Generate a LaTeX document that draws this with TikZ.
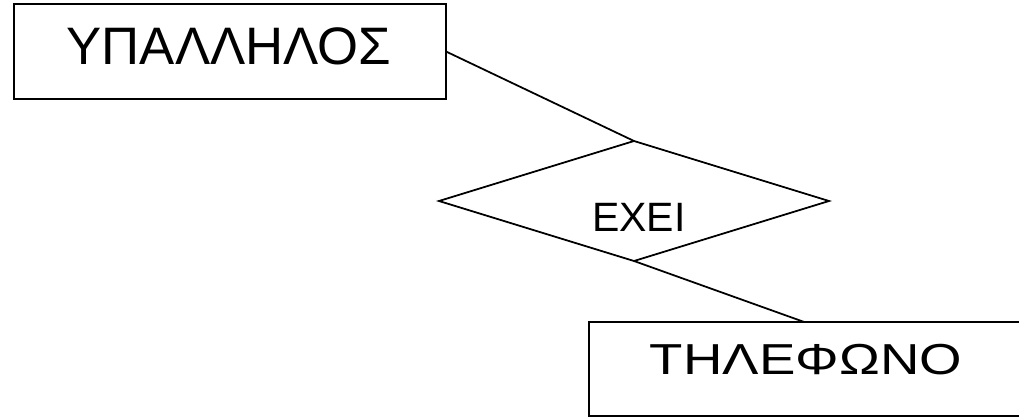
\documentclass[tikz,border=0pt]{standalone}
\usepackage{fontspec}
\setmainfont{Liberation Sans}
\usetikzlibrary{shapes.geometric}
\tikzset{
  entity/.style={draw, line width=1.5pt, inner sep=0pt, outer sep=0pt},
  relation/.style={draw, diamond, line width=1.5pt, minimum width=11.7cm, minimum height=3.6cm, inner sep=0pt, outer sep=0pt},
  boxtext/.style={anchor=base, inner sep=0pt}
}

\begin{document}
\begin{tikzpicture}[x=0.03cm,y=-0.03cm]
\useasboundingbox (0,0) rectangle (1019,418);
\clip (0,0) rectangle (1019,418);
% entities and the relation
\node[entity, minimum width=12.96cm, minimum height=2.85cm] (ypallilos) at (230,51.5) {};
\node[relation] (exei) at (634,201) {};
\node[entity, draw=none, minimum width=13.26cm, minimum height=2.82cm] (tilefono) at (810,369) {};
% the second box runs off the right edge
\draw[line width=1.5pt] (tilefono.north east) -- (tilefono.north west) -- (tilefono.south west) -- (tilefono.south east);
% texts
\node[boxtext, font=\fontsize{45}{50}\selectfont] (ypallilostxt) at (229,64.5) {ΥΠΑΛΛΗΛΟΣ};
\node[boxtext, font=\fontsize{35}{40}\selectfont] (exeitxt) at (639,231) {ΕΧΕΙ};
\node[boxtext, font=\fontsize{37}{42}\selectfont, xscale=1.26, transform shape] (tilefonotxt) at (806,374) {ΤΗΛΕΦΩΝΟ};
% links
\draw[line width=1.5pt] (ypallilos.east) -- (exei.north);
\draw[line width=1.5pt] (exei.south) -- (tilefono.97.3);
\end{tikzpicture}
\end{document}
